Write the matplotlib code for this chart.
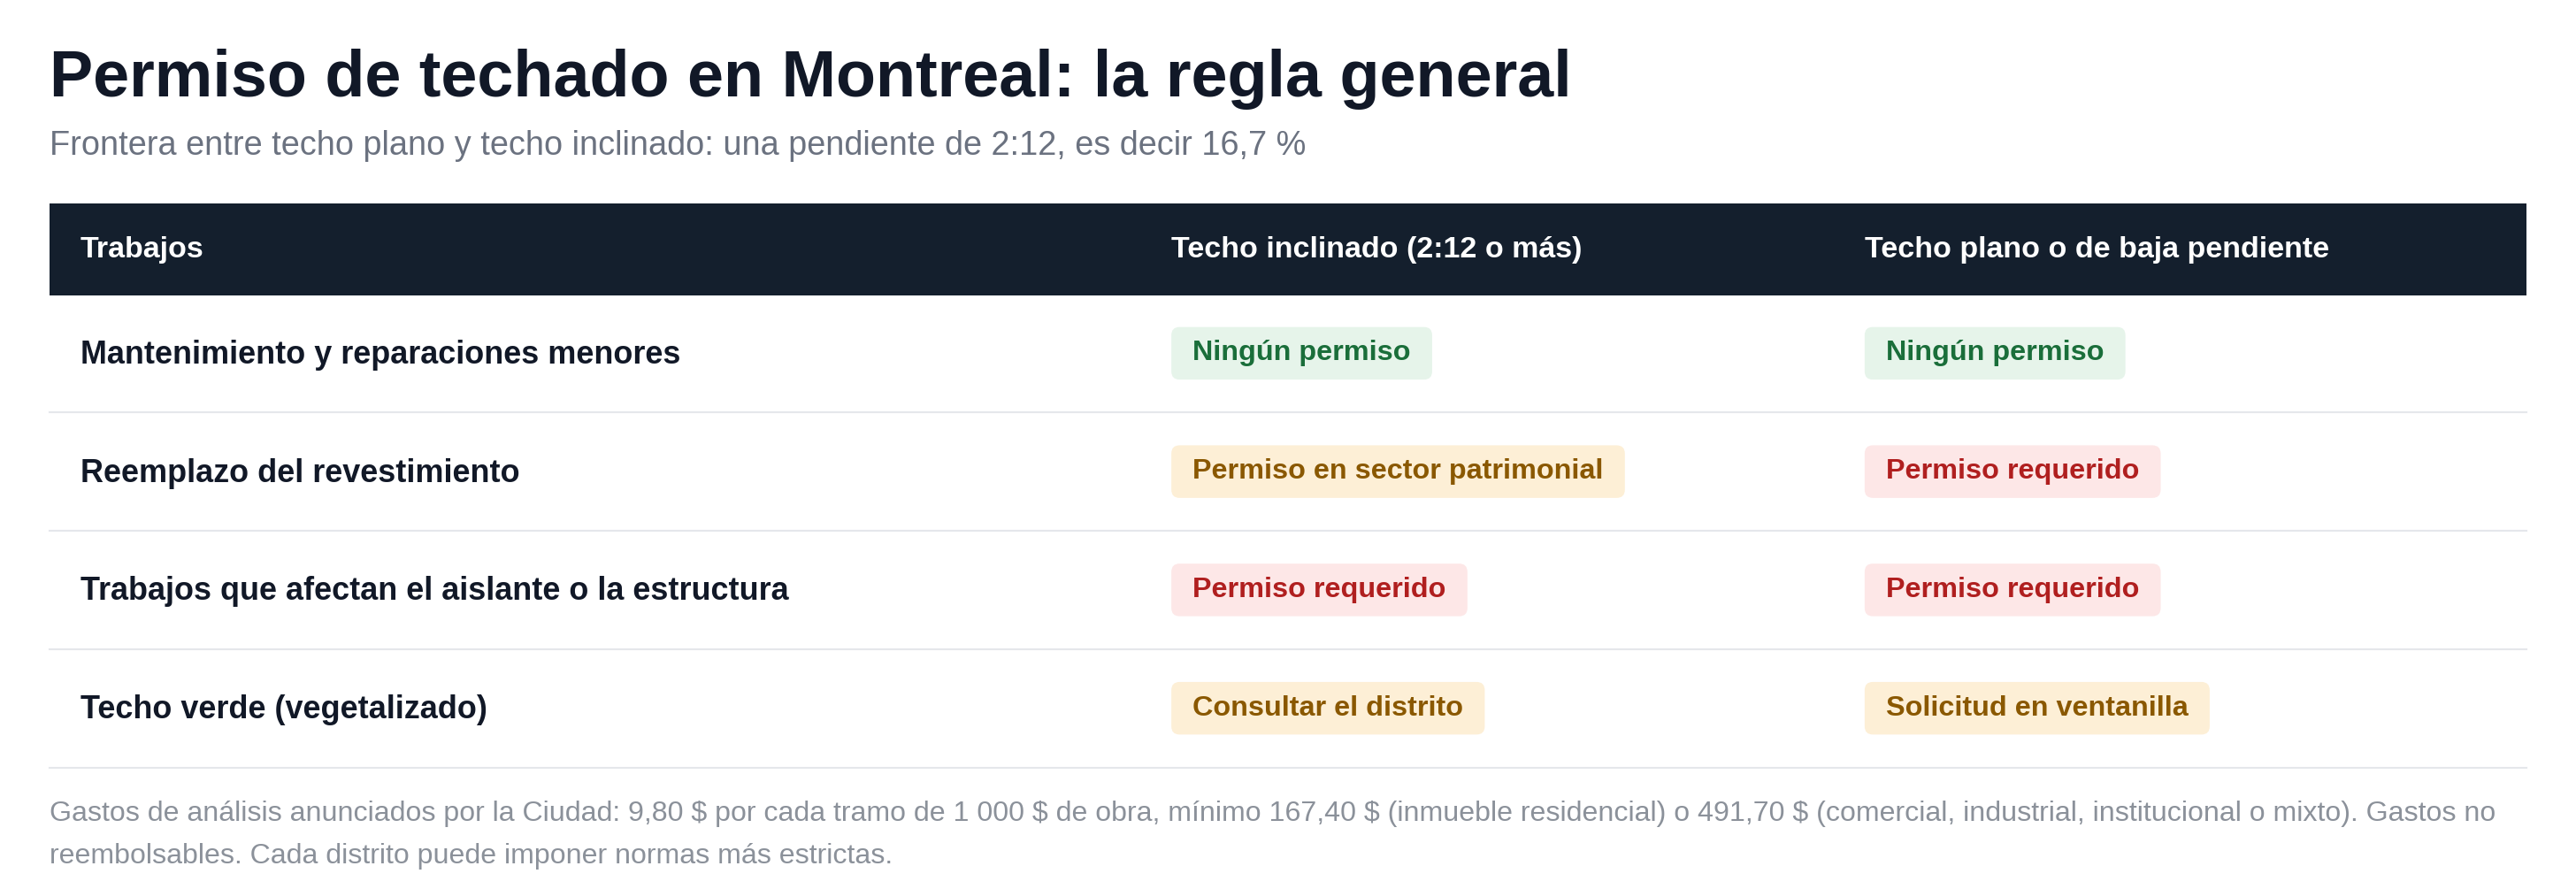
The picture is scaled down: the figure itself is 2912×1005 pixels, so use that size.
import matplotlib
matplotlib.use("Agg")
import matplotlib.pyplot as plt
from matplotlib.patches import FancyBboxPatch, Rectangle

plt.rcParams["font.family"] = ["Liberation Sans", "DejaVu Sans"]
plt.rcParams["text.parse_math"] = False

TITLE = "Permiso de techado en Montreal: la regla general"
SUBTITLE = "Frontera entre techo plano y techo inclinado: una pendiente de 2:12, es decir 16,7 %"
HEADERS = ["Trabajos", "Techo inclinado (2:12 o más)", "Techo plano o de baja pendiente"]
ROWS = ["Mantenimiento y reparaciones menores", "Reemplazo del revestimiento",
        "Trabajos que afectan el aislante o la estructura", "Techo verde (vegetalizado)"]
SLOPED = ["Ningún permiso", "Permiso en sector patrimonial", "Permiso requerido", "Consultar el distrito"]
FLAT = ["Ningún permiso", "Permiso requerido", "Permiso requerido", "Solicitud en ventanilla"]
KIND_SLOPED = ["ok", "warn", "req", "warn"]
KIND_FLAT = ["ok", "req", "req", "warn"]
FOOT = ["Gastos de análisis anunciados por la Ciudad: 9,80 $ por cada tramo de 1 000 $ de obra, mínimo 167,40 $ "
        "(inmueble residencial) o 491,70 $ (comercial, industrial, institucional o mixto). Gastos no",
        "reembolsables. Cada distrito puede imponer normas más estrictas."]

BADGE = {"ok": ("#e6f4ea", "#1a6e3a"), "warn": ("#fdefd6", "#8a5800"), "req": ("#fde7e7", "#b01f1f")}

W, H = 1568, 541  # layout units (reference scaled)
fig = plt.figure(figsize=(29.12, 10.05), dpi=100)
ax = fig.add_axes([0, 0, 1, 1])
ax.set_xlim(0, W)
ax.set_ylim(H, 0)
ax.axis("off")
S = 2912 / W * 0.72  # layout px -> points

ax.text(30, 48, TITLE, fontsize=39.7 * S, weight="bold", color="#111827", va="center")
ax.text(30, 89, SUBTITLE, fontsize=20.4 * S, color="#6b7280", va="center")

ax.add_patch(Rectangle((30, 124), 1508, 56, color="#141f2d", lw=0))
cols = [49, 713, 1135]
for x, h in zip(cols, HEADERS):
    ax.text(x, 152, h, fontsize=18.3 * S, weight="bold", color="white", va="center")

fig.canvas.draw()
r = fig.canvas.get_renderer()
inv = ax.transData.inverted()


def badge(x, y, label, kind):
    bg, fg = BADGE[kind]
    t = ax.text(x + 13, y, label, fontsize=17.4 * S, weight="bold", color=fg, va="center", zorder=3)
    bb = t.get_window_extent(renderer=r)
    x0 = inv.transform((bb.x0, bb.y0))[0]
    x1 = inv.transform((bb.x1, bb.y0))[0]
    w = x1 - x0 + 26
    ax.add_patch(FancyBboxPatch((x, y - 16), w, 32, boxstyle="round,pad=0,rounding_size=5",
                                fc=bg, ec="none", zorder=2))


for i, name in enumerate(ROWS):
    yc = 215 + 72 * i
    ax.text(49, yc + 1, name, fontsize=19.4 * S, weight="bold", color="#111827", va="center")
    badge(713, yc, SLOPED[i], KIND_SLOPED[i])
    badge(1135, yc, FLAT[i], KIND_FLAT[i])
    ax.plot([30, 1538], [251 + 72 * i] * 2, color="#e5e7eb", lw=1.5)

for j, line in enumerate(FOOT):
    ax.text(30, 495 + 26 * j, line, fontsize=17.3 * S, color="#8b919a", va="center")

fig.savefig("out.png", dpi=100)
